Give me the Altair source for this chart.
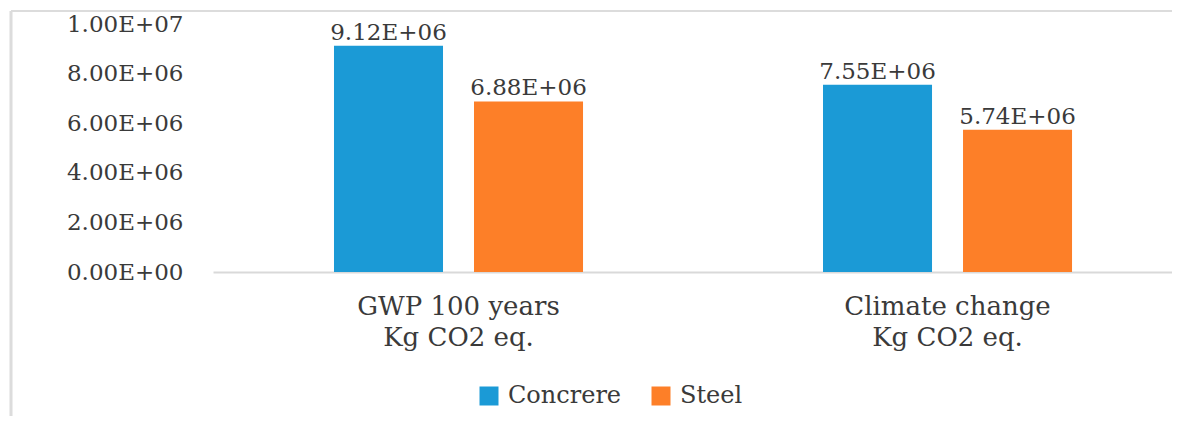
import altair as alt
import pandas as pd

categories = ["GWP 100 years\nKg CO2 eq.", "Climate change\nKg CO2 eq."]
series = ["Concrere", "Steel"]
concrete_vals = [9.12e6, 7.55e6]
steel_vals = [6.88e6, 5.74e6]
tick_values = [0, 2e6, 4e6, 6e6, 8e6, 1e7]
tick_labels = [f"{t:.2E}" for t in tick_values]
colors = ["#1b9ad6", "#fd7f28"]

rows = []
for i, c in enumerate(categories):
    rows.append({"cat": c, "series": series[0], "value": concrete_vals[i]})
    rows.append({"cat": c, "series": series[1], "value": steel_vals[i]})
df = pd.DataFrame(rows)
df["label"] = df["value"].map(lambda v: f"{v:.2E}")

label_expr = "''"
for t, l in zip(tick_values, tick_labels):
    label_expr = f"abs(datum.value - {t}) < 1 ? '{l}' : ({label_expr})"

FONT = "DejaVu Serif"
TXT = "#3a3a3a"

x = alt.X("cat:N", sort=categories, title=None,
          scale=alt.Scale(paddingInner=0.0819, paddingOuter=0.0215, align=1),
          axis=alt.Axis(labelExpr="split(datum.label, '\\n')", labelAngle=0,
                        ticks=False, domainColor="#d9d9d9", domainWidth=2,
                        labelFont=FONT, labelFontSize=26, labelColor=TXT,
                        labelPadding=21, labelLineHeight=31, labelLimit=0))
xo = alt.XOffset("series:N", sort=series,
                 scale=alt.Scale(paddingInner=0.2214, paddingOuter=0.714))
y = alt.Y("value:Q", title=None,
          scale=alt.Scale(domain=[0, 1e7]),
          axis=alt.Axis(values=tick_values, labelExpr=label_expr, grid=False,
                        domain=False, ticks=False, labelPadding=30,
                        labelFont=FONT, labelFontSize=23, labelColor=TXT))
color = alt.Color("series:N", sort=series,
                  scale=alt.Scale(domain=series, range=colors),
                  legend=alt.Legend(title=None, orient="none", legendX=264, legendY=360,
                                    direction="horizontal", symbolType="square",
                                    symbolSize=361, symbolStrokeWidth=0,
                                    labelFont=FONT, labelFontSize=24, labelColor=TXT,
                                    labelOffset=7, columnPadding=27))

base = alt.Chart(df)
bars = base.mark_bar().encode(x=x, xOffset=xo, y=y, color=color)
texts = base.mark_text(baseline="bottom", dy=-1, font=FONT, fontSize=23, color=TXT).encode(
    x=x, xOffset=xo, y=y, text="label:N")

frame_df = pd.DataFrame({"a": [0]})
top_line = alt.Chart(frame_df).mark_rule(color="#dcdcdc", strokeWidth=2).encode(
    x=alt.value(-202), x2=alt.value(1200), y=alt.value(-13))
left_line = alt.Chart(frame_df).mark_rule(color="#dcdcdc", strokeWidth=3).encode(
    x=alt.value(-202), y=alt.value(-13), y2=alt.value(420))

chart = alt.layer(top_line, left_line, bars, texts).properties(
    width=959, height=248,
    autosize=alt.AutoSizeParams(type="none"),
    padding={"left": 205, "top": 16, "right": 0, "bottom": 144},
).configure_view(stroke=None)

chart.save("out.html", embed_options={"renderer": "svg", "actions": False})
